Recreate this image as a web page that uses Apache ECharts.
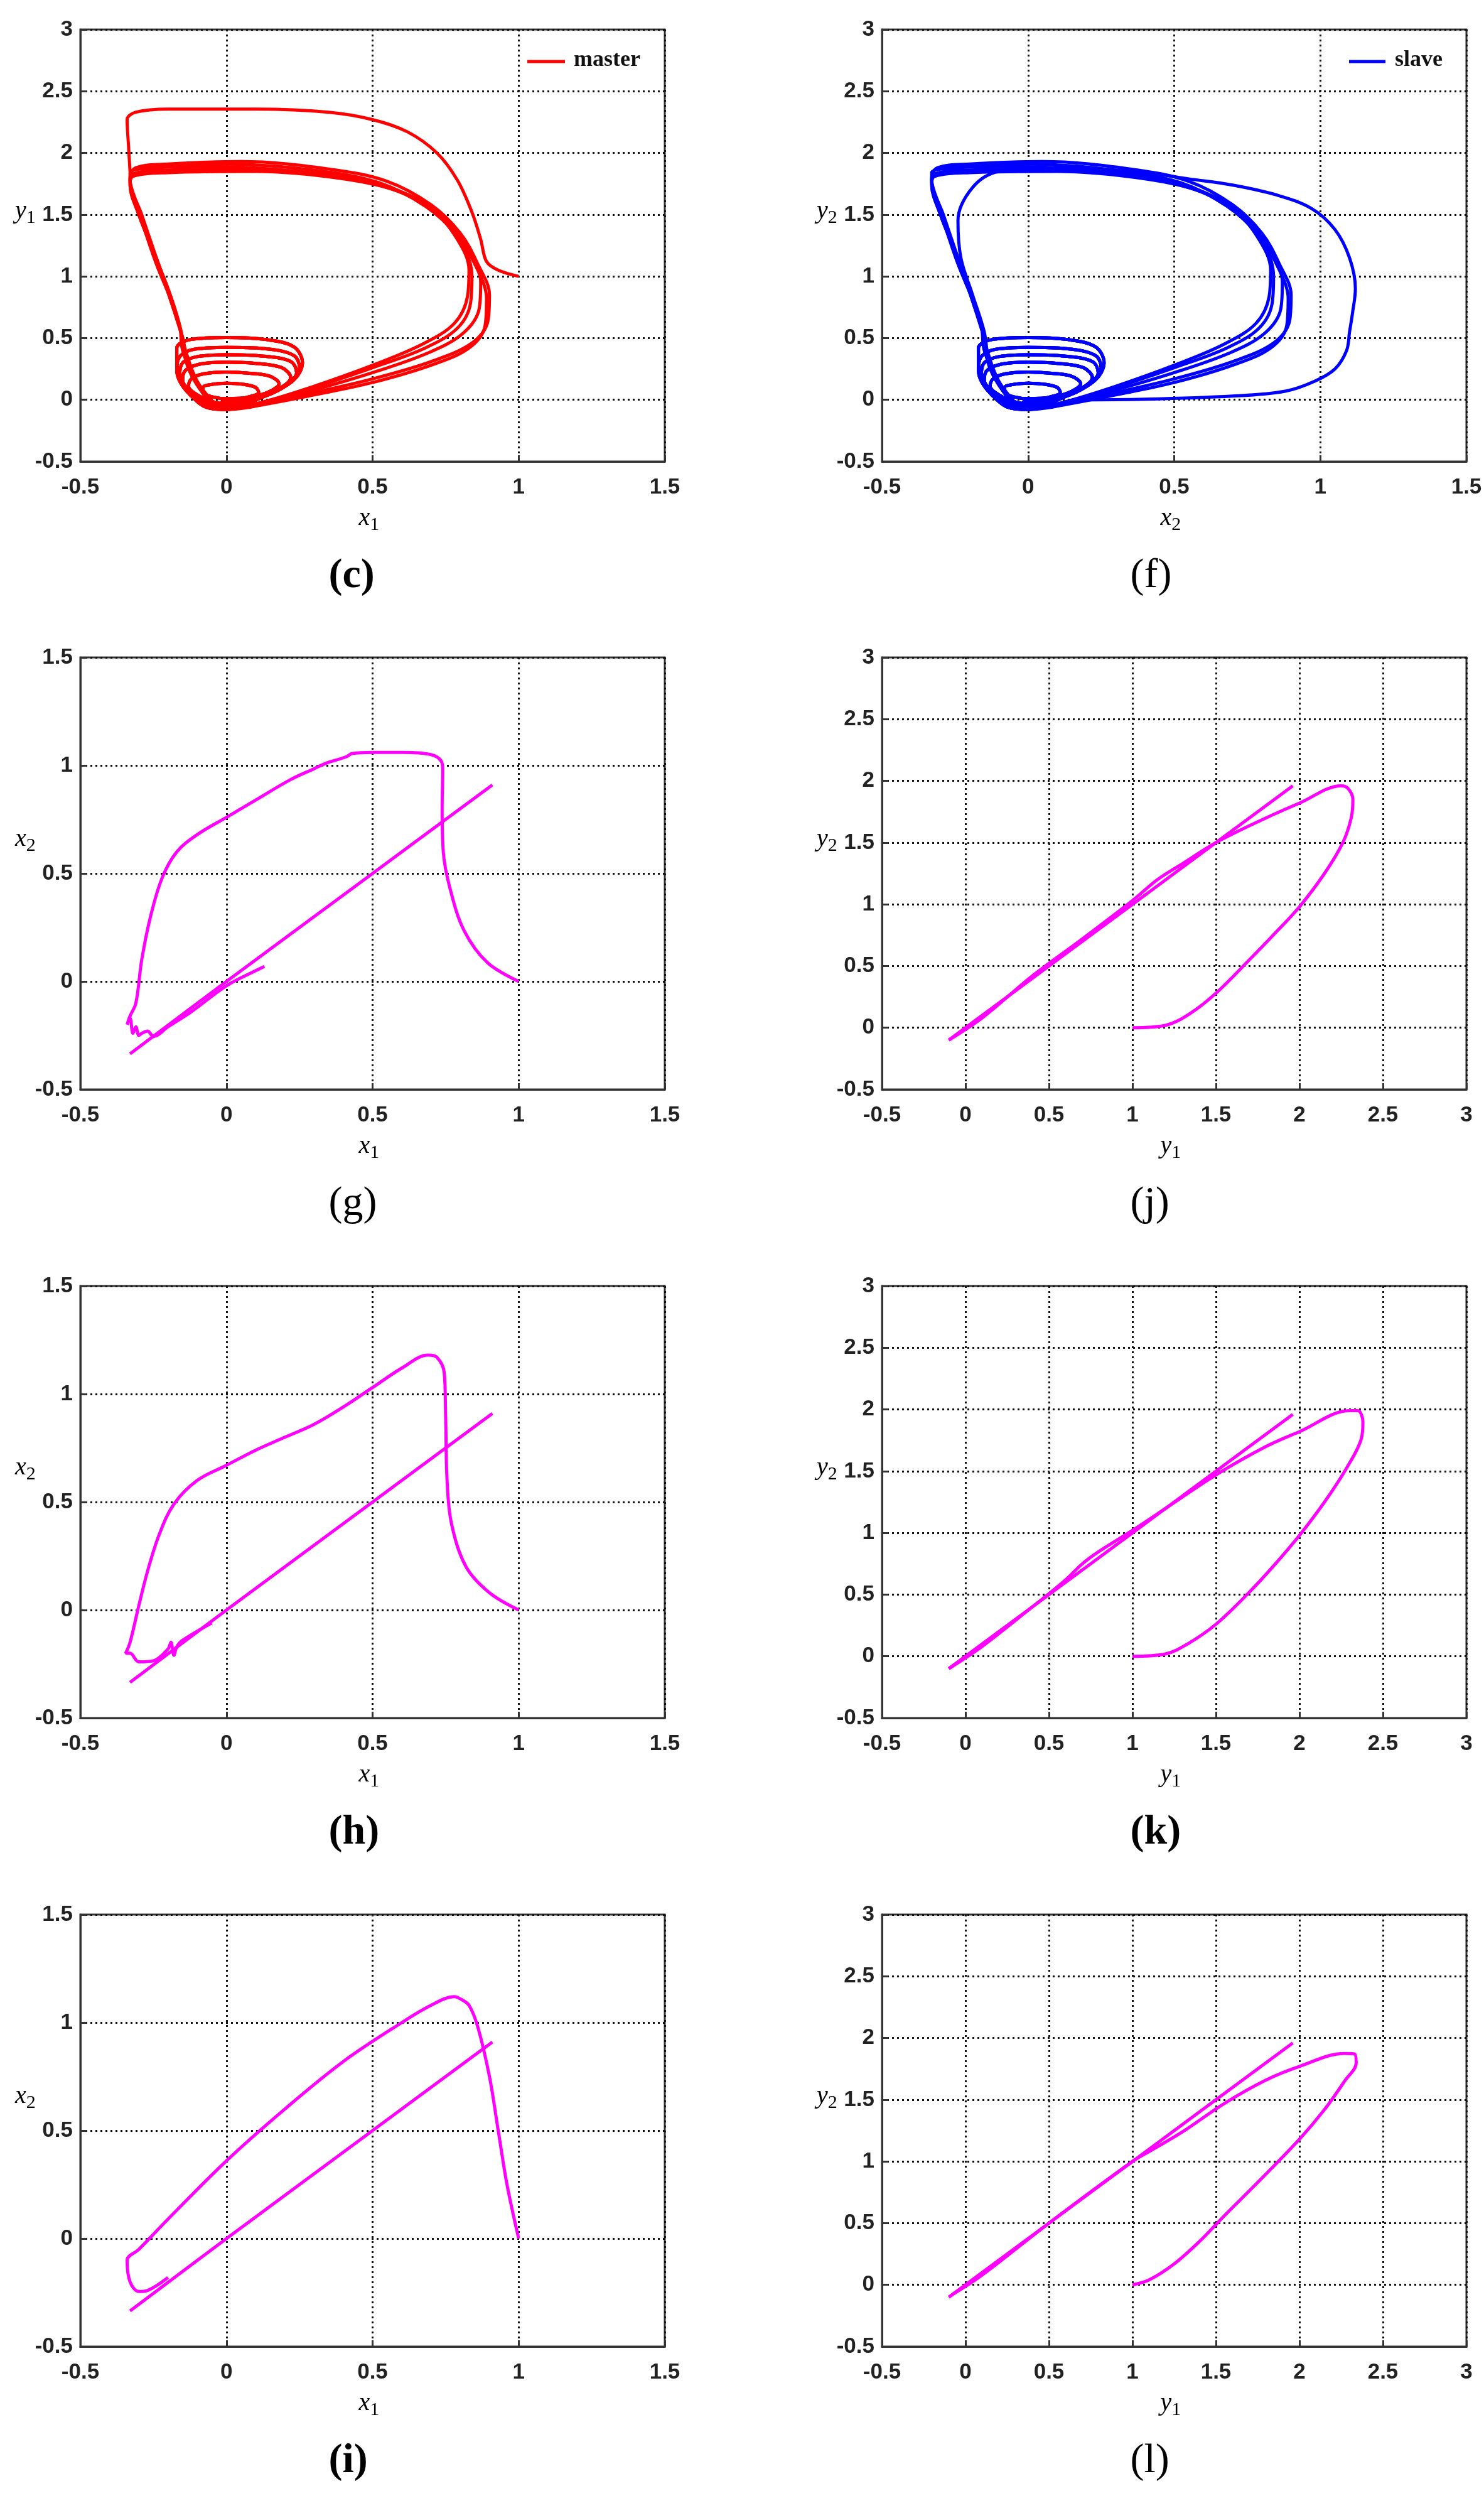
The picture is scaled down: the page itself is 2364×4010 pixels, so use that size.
<!DOCTYPE html>
<html lang="en">
<head>
<meta charset="UTF-8" />
<script src="https://cdn.jsdelivr.net/npm/echarts@6.0.0/dist/echarts.min.js"></script>
<style>
  body { margin: 0; background: #fff; }
  #container { width: 2364px; height: 4010px; }
</style>
</head>
<body>
<div id="container"></div>
<script>
// ---- data ----
// transient of the master system from (1,1)
const masterStart = [[1.0,1.0],[0.93,1.05],[0.89,1.12],[0.87,1.3],[0.84,1.52],[0.79,1.78],[0.72,2.0],[0.62,2.17],[0.5,2.27],[0.35,2.33],[0.1,2.355],[-0.2,2.355],[-0.31,2.33],[-0.34,2.27],[-0.335,2.05],[-0.33,1.85]];
// transient of the slave system
const slaveStart = [[0.15,0.0],[0.4,0.005],[0.7,0.03],[0.88,0.07],[0.98,0.15],[1.05,0.25],[1.09,0.4],[1.1,0.55],[1.11,0.7],[1.12,0.9],[1.1,1.15],[1.05,1.38],[0.97,1.55],[0.85,1.66],[0.7,1.74],[0.55,1.79],[0.4,1.84],[0.1,1.88],[-0.1,1.85],[-0.19,1.72],[-0.24,1.45],[-0.23,1.15],[-0.19,0.85],[-0.15,0.55],[-0.14,0.35]];
// shared chaotic attractor (spiral rings and big loops)
const spiral = [[-0.02,-0.02],[0.07,0.02],[0.11,0.06],[0.1,0.1],[0.06,0.125],[0,0.135],[-0.05,0.125],[-0.08,0.1],[-0.08,0.06],[-0.05,0.025],[0,0.01],
  [0.08,0.02],[0.15,0.07],[0.18,0.13],[0.15,0.19],[0.08,0.215],[0,0.225],[-0.08,0.21],[-0.12,0.17],[-0.13,0.11],[-0.1,0.04],[-0.04,-0.02],[0,-0.03],
  [0.1,0.02],[0.18,0.09],[0.22,0.18],[0.19,0.26],[0.1,0.295],[0,0.305],[-0.09,0.29],[-0.14,0.24],[-0.15,0.16],[-0.12,0.06],[-0.06,-0.03],[0,-0.05],
  [0.12,0.02],[0.2,0.11],[0.24,0.22],[0.22,0.31],[0.12,0.355],[0,0.365],[-0.1,0.35],[-0.15,0.3],[-0.16,0.2],[-0.13,0.08],[-0.06,-0.04],[0,-0.06],
  [0.13,0.03],[0.21,0.13],[0.25,0.26],[0.23,0.36],[0.13,0.415],[0,0.425],[-0.11,0.41],[-0.16,0.35],[-0.17,0.24],[-0.14,0.08],[-0.07,-0.05],[0,-0.07],
  [0.14,0.04],[0.23,0.16],[0.26,0.3],[0.23,0.43],[0.13,0.49],[0,0.505],[-0.12,0.49],[-0.17,0.42],[-0.17,0.3],[-0.14,0.1],[-0.07,-0.06],[0,-0.08]];
const loopA = [[0,-0.08],[0.1,-0.05],[0.3,0.1],[0.5,0.26],[0.68,0.42],[0.79,0.58],[0.835,0.78],[0.84,1.0],[0.81,1.25],[0.73,1.5],[0.6,1.68],[0.4,1.79],[0.1,1.85],[-0.2,1.84],[-0.32,1.81],[-0.33,1.74],[-0.3,1.5],[-0.25,1.2],[-0.2,0.9],[-0.16,0.6],[-0.14,0.4],[-0.1,0.15],[-0.03,-0.06]];
const loopB = [[0,-0.08],[0.1,-0.04],[0.3,0.06],[0.5,0.17],[0.7,0.31],[0.84,0.46],[0.895,0.64],[0.9,0.85],[0.86,1.1],[0.8,1.35],[0.7,1.58],[0.55,1.77],[0.35,1.87],[0.05,1.93],[-0.2,1.91],[-0.31,1.88],[-0.33,1.79],[-0.3,1.55],[-0.26,1.25],[-0.2,0.9],[-0.16,0.6],[-0.15,0.4],[-0.1,0.12],[-0.03,-0.07]];
const loopC = [[0,-0.07],[0.12,-0.02],[0.3,0.11],[0.5,0.28],[0.67,0.45],[0.78,0.62],[0.825,0.84],[0.83,1.05],[0.79,1.3],[0.7,1.55],[0.55,1.72],[0.35,1.82],[0.05,1.87],[-0.22,1.86],[-0.32,1.83],[-0.33,1.76],[-0.29,1.45],[-0.24,1.1],[-0.18,0.75],[-0.15,0.5],[-0.12,0.2],[-0.04,-0.06]];
const loopD = [[0,-0.08],[0.1,-0.05],[0.3,0.04],[0.5,0.14],[0.7,0.28],[0.83,0.42],[0.885,0.6],[0.89,0.82],[0.86,1.05],[0.79,1.33],[0.68,1.57],[0.52,1.76],[0.3,1.86],[0.0,1.91],[-0.22,1.89],[-0.32,1.86],[-0.33,1.78],[-0.29,1.5],[-0.24,1.15],[-0.19,0.8],[-0.15,0.5],[-0.13,0.25],[-0.05,-0.05]];
const loopE = [[0,-0.08],[0.12,-0.03],[0.3,0.08],[0.5,0.22],[0.69,0.38],[0.81,0.54],[0.865,0.74],[0.87,0.95],[0.84,1.18],[0.77,1.42],[0.65,1.63],[0.48,1.77],[0.25,1.85],[-0.05,1.89],[-0.25,1.88],[-0.33,1.84],[-0.33,1.77],[-0.3,1.5],[-0.24,1.15],[-0.19,0.8],[-0.15,0.5]];

// (g), (h), (i): x1 vs x2
const diagX = [[-0.33,-0.335],[0,0],[0.5,0.5],[0.91,0.91]];
const curveG = [[1,0],[0.894,0.086],[0.813,0.236],[0.764,0.436],[0.742,0.6],[0.738,0.8],[0.74,0.98],[0.735,1.02],[0.7,1.05],[0.6,1.06],[0.5,1.06],[0.43,1.055],[0.41,1.04],[0.34,1.01],[0.3,0.985],[0.22,0.935],[0.1,0.84],[0,0.76],[-0.1,0.68],[-0.17,0.6],[-0.22,0.48],[-0.26,0.3],[-0.29,0.1],[-0.31,-0.1],[-0.33,-0.16],[-0.34,-0.2],[-0.33,-0.17],[-0.32,-0.24],[-0.31,-0.21],[-0.3,-0.25],[-0.29,-0.24],[-0.27,-0.23],[-0.25,-0.255],[-0.2,-0.21],[-0.12,-0.14],[0,-0.02],[0.1,0.05],[0.13,0.07]];
const curveH = [[1,0],[0.9,0.08],[0.82,0.2],[0.77,0.4],[0.755,0.6],[0.75,0.9],[0.745,1.1],[0.72,1.17],[0.69,1.18],[0.6,1.12],[0.5,1.03],[0.4,0.94],[0.3,0.86],[0.2,0.8],[0.1,0.74],[0,0.67],[-0.1,0.6],[-0.18,0.49],[-0.23,0.35],[-0.27,0.18],[-0.3,0.02],[-0.33,-0.15],[-0.345,-0.2],[-0.33,-0.2],[-0.3,-0.24],[-0.25,-0.235],[-0.2,-0.18],[-0.19,-0.15],[-0.18,-0.21],[-0.17,-0.17],[-0.15,-0.14],[-0.05,-0.06]];
const curveI = [[1,0],[0.96,0.25],[0.93,0.5],[0.9,0.75],[0.86,0.98],[0.83,1.08],[0.8,1.11],[0.78,1.12],[0.7,1.08],[0.6,1.0],[0.4,0.82],[0.2,0.6],[0,0.36],[-0.2,0.09],[-0.3,-0.05],[-0.34,-0.1],[-0.33,-0.2],[-0.3,-0.245],[-0.27,-0.24],[-0.2,-0.18]];
// (j), (k), (l): y1 vs y2
const diagY = [[-0.1,-0.1],[1,1],[1.96,1.96]];
const curveJ = [[1,0],[1.2,0.02],[1.35,0.12],[1.5,0.28],[1.7,0.55],[1.85,0.76],[2.0,0.98],[2.15,1.25],[2.26,1.5],[2.31,1.7],[2.32,1.85],[2.29,1.94],[2.25,1.96],[2.0,1.82],[1.8,1.7],[1.5,1.5],[1.3,1.33],[1.15,1.2],[1.0,1.03],[0.7,0.72],[0.4,0.42],[0.1,0.08],[-0.1,-0.1]];
const curveK = [[1,0],[1.2,0.02],[1.33,0.1],[1.5,0.26],[1.7,0.52],[1.85,0.74],[2.0,0.98],[2.15,1.25],[2.28,1.52],[2.37,1.76],[2.38,1.9],[2.35,1.99],[2.3,1.99],[2.0,1.82],[1.8,1.7],[1.5,1.47],[1.2,1.2],[1.0,1.02],[0.8,0.85],[0.7,0.75],[0.6,0.62],[0.4,0.4],[0.1,0.08],[-0.1,-0.1]];
const curveL = [[1,0],[1.1,0.04],[1.25,0.17],[1.4,0.35],[1.55,0.56],[1.75,0.83],[2.0,1.18],[2.15,1.42],[2.27,1.65],[2.34,1.8],[2.33,1.87],[2.27,1.875],[2.0,1.77],[1.8,1.66],[1.55,1.47],[1.3,1.24],[1.1,1.08],[1.0,1.0],[0.5,0.5],[0.1,0.08],[-0.08,-0.08]];

const panelLetters = ['c', 'f', 'g', 'j', 'h', 'k', 'i', 'l'];
const panelBold = [true, false, false, false, true, true, true, false];

// ---- layout ----
const lefts = [128, 1405];
const tops = [47, 1047, 2048, 3049];
const W = 931, H = 688;
const MAG = '#ff00ff';

const grids = [], xAxes = [], yAxes = [], series = [], graphics = [];
const axisStyle = { fontSize: 35, fontWeight: 'bold', color: '#222', fontFamily: 'Liberation Sans' };

// panel specs: [xmin,xmax,ymin,ymax, xname, yname]
const specs = [
  [-0.5, 1.5, -0.5, 3, ['x', '1'], ['y', '1']],
  [-0.5, 1.5, -0.5, 3, ['x', '2'], ['y', '2']],
  [-0.5, 1.5, -0.5, 1.5, ['x', '1'], ['x', '2']],
  [-0.5, 3, -0.5, 3, ['y', '1'], ['y', '2']],
  [-0.5, 1.5, -0.5, 1.5, ['x', '1'], ['x', '2']],
  [-0.5, 3, -0.5, 3, ['y', '1'], ['y', '2']],
  [-0.5, 1.5, -0.5, 1.5, ['x', '1'], ['x', '2']],
  [-0.5, 3, -0.5, 3, ['y', '1'], ['y', '2']]
];

function fmt(v) { return String(v); }

specs.forEach((s, i) => {
  const col = i % 2, row = Math.floor(i / 2);
  const L = lefts[col], T = tops[row];
  grids.push({ left: L, top: T, width: W, height: H, show: true, borderColor: '#333', borderWidth: 3, backgroundColor: '#fff' });
  const split = { show: true, lineStyle: { color: '#111', type: [3, 5], width: 3 } };
  xAxes.push({ type: 'value', gridIndex: i, min: s[0], max: s[1], interval: 0.5,
    axisLine: { show: true, onZero: false, lineStyle: { color: '#333', width: 3 } },
    axisTick: { show: true, inside: true, length: 10, lineStyle: { color: '#333', width: 3 } },
    axisLabel: Object.assign({ margin: 24, formatter: fmt }, axisStyle), splitLine: split });
  yAxes.push({ type: 'value', gridIndex: i, min: s[2], max: s[3], interval: 0.5,
    axisLine: { show: true, onZero: false, lineStyle: { color: '#333', width: 3 } },
    axisTick: { show: true, inside: true, length: 10, lineStyle: { color: '#333', width: 3 } },
    axisLabel: Object.assign({ margin: 12, formatter: fmt }, axisStyle), splitLine: split });

  const nameRich = { v: { fontFamily: 'Liberation Serif', fontStyle: 'italic', fontSize: 40, color: '#222' },
                     s: { fontFamily: 'Liberation Serif', fontSize: 30, color: '#222', padding: [22, 0, 0, 0] } };
  graphics.push({ type: 'text', left: L + W / 2 - 22, top: T + H + 70,
    style: { text: '{v|' + s[4][0] + '}{s|' + s[4][1] + '}', rich: nameRich } });
  graphics.push({ type: 'text', left: L - 104, top: T + 0.45 * H - 40,
    style: { text: '{v|' + s[5][0] + '}{s|' + s[5][1] + '}', rich: nameRich } });
  graphics.push({ type: 'text', left: L + W / 2 - 70, top: T + H + 150,
    style: { text: '(' + panelLetters[i] + ')', fontFamily: 'Liberation Serif', fontSize: 66,
             fontWeight: panelBold[i] ? 'bold' : 'normal', fill: '#000' } });
});

function line(gi, data, color, name) {
  series.push({ type: 'line', name: name, xAxisIndex: gi, yAxisIndex: gi, data: data, showSymbol: false,
    smooth: 0.35, lineStyle: { color: color, width: 5 }, itemStyle: { color: color }, animation: false });
}

const attractor = [spiral, loopA, spiral, loopB, spiral, loopC, spiral, loopD, loopE];
line(0, masterStart, '#ff0000', 'master');
attractor.forEach(d => line(0, d, '#ff0000'));
line(1, slaveStart, '#0000ff', 'slave');
attractor.forEach(d => line(1, d, '#0000ff'));
line(2, curveG, MAG); line(2, diagX, MAG);
line(3, curveJ, MAG); line(3, diagY, MAG);
line(4, curveH, MAG); line(4, diagX, MAG);
line(5, curveK, MAG); line(5, diagY, MAG);
line(6, curveI, MAG); line(6, diagX, MAG);
line(7, curveL, MAG); line(7, diagY, MAG);

// legends
graphics.push({ type: 'line', shape: { x1: 840, y1: 98, x2: 900, y2: 98 }, style: { stroke: '#ff0000', lineWidth: 5 } });
graphics.push({ type: 'text', left: 914, top: 78, style: { text: 'master', fontFamily: 'Liberation Serif', fontWeight: 'bold', fontSize: 36, fill: '#111' } });
graphics.push({ type: 'line', shape: { x1: 2149, y1: 98, x2: 2207, y2: 98 }, style: { stroke: '#0000ff', lineWidth: 5 } });
graphics.push({ type: 'text', left: 2222, top: 78, style: { text: 'slave', fontFamily: 'Liberation Serif', fontWeight: 'bold', fontSize: 36, fill: '#111' } });

const chart = echarts.init(document.getElementById('container'), null, { renderer: 'canvas' });
chart.setOption({
  backgroundColor: '#fff',
  animation: false,
  grid: grids, xAxis: xAxes, yAxis: yAxes, series: series, graphic: graphics
});
</script>
</body>
</html>
